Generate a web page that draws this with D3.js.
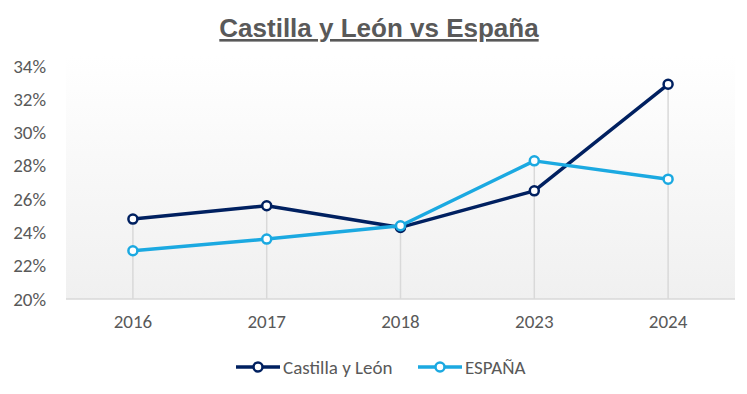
<!DOCTYPE html>
<html>
<head>
<meta charset="utf-8">
<script src="https://cdn.jsdelivr.net/npm/d3@7"></script>
<style>
  body{margin:0;background:#fff;}
</style>
</head>
<body>
<svg id="svg"></svg>
<script>
var years = ["2016","2017","2018","2023","2024"];
var castilla = [24.8, 25.6, 24.3, 26.5, 32.9];
var espana = [22.9, 23.6, 24.4, 28.3, 27.2];
var yTicks = [20,22,24,26,28,30,32,34];
var seriesNames = ["Castilla y León","ESPAÑA"];
var seriesColors = ["#002060","#1ba9e1"];

var width = 747, height = 394;
var margin = {top:66, right:12, bottom:95, left:66};
var innerW = width - margin.left - margin.right;
var innerH = height - margin.top - margin.bottom;

var svg = d3.select("#svg")
  .attr("width", width)
  .attr("height", height)
  .style("font-family","Carlito, 'Noto Sans', sans-serif");

var x = d3.scaleBand().domain(years).range([margin.left, margin.left+innerW]);
var y = d3.scaleLinear().domain([20,34]).range([margin.top+innerH, margin.top]);

// background gradient of the plot area
var grad = svg.append("defs").append("linearGradient")
  .attr("id","bg").attr("x1","0%").attr("x2","0%").attr("y1","0%").attr("y2","100%");
grad.append("stop").attr("offset","0%").style("stop-color","#ffffff");
grad.append("stop").attr("offset","100%").style("stop-color","#f0f0f0");

svg.append("rect")
  .attr("x", margin.left).attr("y", margin.top - 10)
  .attr("width", innerW).attr("height", innerH + 10)
  .style("fill","url(#bg)");

// title
svg.append("text")
  .attr("x", 379).attr("y", 37)
  .attr("text-anchor","middle")
  .style("font-family","'Liberation Sans', Arial, sans-serif")
  .style("font-weight",700)
  .style("font-size","26px")
  .style("fill","#595959")
  .style("text-decoration","underline")
  .text("Castilla y León vs España");

// y axis labels
var yAxis = d3.axisLeft(y).tickValues(yTicks).tickSize(0).tickPadding(0)
  .tickFormat(d => d + "%");
var yG = svg.append("g")
  .attr("transform", `translate(${margin.left-20},0)`)
  .call(yAxis);
yG.select(".domain").remove();
yG.selectAll("text")
  .style("font-family","Carlito, 'Noto Sans', sans-serif")
  .style("font-size","19px").style("fill","#595959")
  .attr("text-anchor","end");

// x axis
var xAxis = d3.axisBottom(x).tickSize(0).tickPadding(16);
var xG = svg.append("g")
  .attr("transform", `translate(0,${margin.top+innerH})`)
  .call(xAxis);
xG.select(".domain").remove();
xG.selectAll("text")
  .style("font-family","Carlito, 'Noto Sans', sans-serif")
  .style("font-size","19px").style("fill","#595959");

var cx = d => x(d) + x.bandwidth()/2;

// drop lines
var maxVals = years.map((d,i) => Math.max(castilla[i], espana[i]));
svg.selectAll(".drop")
  .data(years)
  .enter().append("line")
  .attr("class","drop")
  .attr("x1", d => cx(d)).attr("x2", d => cx(d))
  .attr("y1", (d,i) => y(maxVals[i]))
  .attr("y2", y(20))
  .style("stroke","#d9d9d9").style("stroke-width",1.5);

// baseline
svg.append("line")
  .attr("x1", margin.left).attr("x2", margin.left+innerW)
  .attr("y1", y(20)).attr("y2", y(20))
  .style("stroke","#d9d9d9").style("stroke-width",1.5);

var line = d3.line().x((d,i) => cx(years[i])).y(d => y(d));

[castilla, espana].forEach(function(vals, s){
  var g = svg.append("g").attr("class","series");
  g.append("path")
    .datum(vals)
    .attr("d", line)
    .style("fill","none")
    .style("stroke", seriesColors[s])
    .style("stroke-width",3.5)
    .style("stroke-linejoin","round");
  g.selectAll("circle")
    .data(vals)
    .enter().append("circle")
    .attr("cx", (d,i) => cx(years[i]))
    .attr("cy", d => y(d))
    .attr("r", 4.5)
    .style("fill","#fff")
    .style("stroke", seriesColors[s])
    .style("stroke-width",2.5);
});

// legend
var legendX = [236, 418];
var lg = svg.append("g").attr("class","legend");
seriesNames.forEach(function(name, s){
  var l = lg.append("g").attr("transform", `translate(${legendX[s]},367)`);
  l.append("line").attr("x1",0).attr("x2",44).attr("y1",0).attr("y2",0)
    .style("stroke", seriesColors[s]).style("stroke-width",3.5);
  l.append("circle").attr("cx",22).attr("cy",0).attr("r",4.5)
    .style("fill","#fff").style("stroke", seriesColors[s]).style("stroke-width",2.5);
  l.append("text").attr("x",47).attr("y",6.5)
    .style("font-size","19px").style("fill","#595959")
    .text(name);
});
</script>
</body>
</html>
